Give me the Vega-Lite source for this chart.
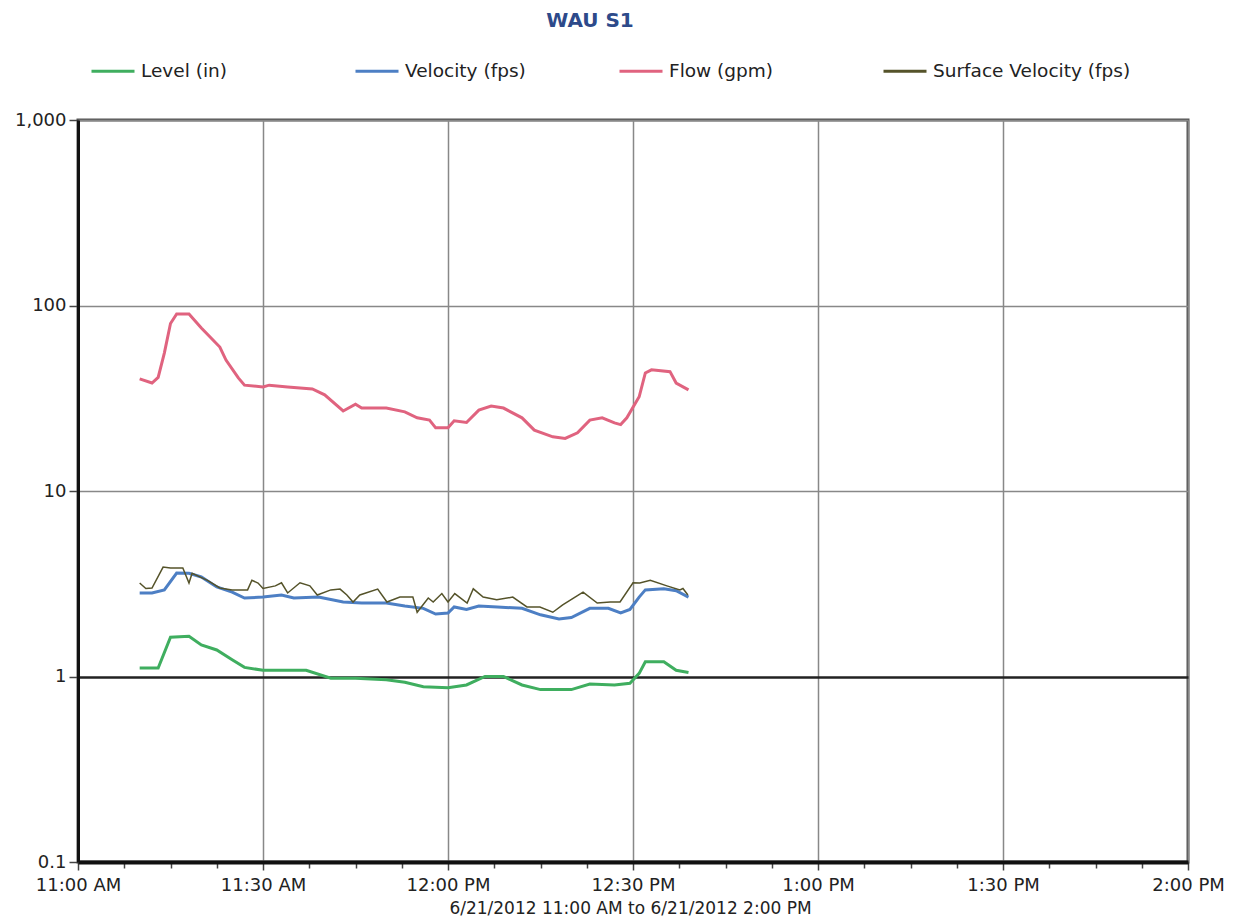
{
"$schema": "https://vega.github.io/schema/vega-lite/v6.json",
"width": 1110, "height": 742,
"autosize": "none",
"padding": {"left": 78, "top": 120, "right": 50, "bottom": 59},
"background": "white",
"config": {"font": "DejaVu Sans", "view": {"stroke": "#555", "strokeWidth": 3}},
"title": {"text": "WAU S1", "anchor": "middle", "dx": -43, "offset": 17, "fontSize": 20, "fontWeight": "bold", "color": "#2d4a8a", "font": "DejaVu Sans"},
"datasets": {
"flow": [
{"t":"2012-06-21T11:10:00","v":40.2},{"t":"2012-06-21T11:12:00","v":38.2},{"t":"2012-06-21T11:13:00","v":41},{"t":"2012-06-21T11:14:00","v":55.4},{"t":"2012-06-21T11:15:00","v":80},{"t":"2012-06-21T11:16:00","v":90},{"t":"2012-06-21T11:18:00","v":90},{"t":"2012-06-21T11:20:00","v":75.6},{"t":"2012-06-21T11:23:00","v":59.7},{"t":"2012-06-21T11:24:00","v":50.8},{"t":"2012-06-21T11:26:00","v":40.7},{"t":"2012-06-21T11:27:00","v":37.2},{"t":"2012-06-21T11:30:00","v":36.4},{"t":"2012-06-21T11:31:00","v":37.2},{"t":"2012-06-21T11:34:00","v":36.4},{"t":"2012-06-21T11:38:00","v":35.5},{"t":"2012-06-21T11:40:00","v":33.0},{"t":"2012-06-21T11:43:00","v":27.0},{"t":"2012-06-21T11:45:00","v":29.4},{"t":"2012-06-21T11:46:00","v":28.0},{"t":"2012-06-21T11:50:00","v":28.0},{"t":"2012-06-21T11:53:00","v":26.7},{"t":"2012-06-21T11:55:00","v":24.8},{"t":"2012-06-21T11:57:00","v":24.1},{"t":"2012-06-21T11:58:00","v":21.9},{"t":"2012-06-21T12:00:00","v":21.9},{"t":"2012-06-21T12:01:00","v":23.9},{"t":"2012-06-21T12:03:00","v":23.4},{"t":"2012-06-21T12:05:00","v":27.3},{"t":"2012-06-21T12:07:00","v":28.7},{"t":"2012-06-21T12:09:00","v":28.0},{"t":"2012-06-21T12:12:00","v":24.8},{"t":"2012-06-21T12:14:00","v":21.3},{"t":"2012-06-21T12:17:00","v":19.6},{"t":"2012-06-21T12:19:00","v":19.2},{"t":"2012-06-21T12:21:00","v":20.6},{"t":"2012-06-21T12:23:00","v":24.1},{"t":"2012-06-21T12:25:00","v":24.8},{"t":"2012-06-21T12:27:00","v":23.3},{"t":"2012-06-21T12:28:00","v":22.8},{"t":"2012-06-21T12:29:00","v":24.8},{"t":"2012-06-21T12:31:00","v":32.2},{"t":"2012-06-21T12:32:00","v":43.3},{"t":"2012-06-21T12:33:00","v":45},{"t":"2012-06-21T12:36:00","v":44},{"t":"2012-06-21T12:37:00","v":38.2},{"t":"2012-06-21T12:39:00","v":35.1}
],
"vel": [
{"t":"2012-06-21T11:10:00","v":2.82},{"t":"2012-06-21T11:12:00","v":2.82},{"t":"2012-06-21T11:14:00","v":2.93},{"t":"2012-06-21T11:16:00","v":3.61},{"t":"2012-06-21T11:18:00","v":3.6},{"t":"2012-06-21T11:20:00","v":3.44},{"t":"2012-06-21T11:22:30","v":3.04},{"t":"2012-06-21T11:25:00","v":2.85},{"t":"2012-06-21T11:27:00","v":2.65},{"t":"2012-06-21T11:30:00","v":2.68},{"t":"2012-06-21T11:33:00","v":2.75},{"t":"2012-06-21T11:35:00","v":2.65},{"t":"2012-06-21T11:39:00","v":2.68},{"t":"2012-06-21T11:43:00","v":2.52},{"t":"2012-06-21T11:46:00","v":2.49},{"t":"2012-06-21T11:50:00","v":2.49},{"t":"2012-06-21T11:53:00","v":2.40},{"t":"2012-06-21T11:56:00","v":2.33},{"t":"2012-06-21T11:58:00","v":2.17},{"t":"2012-06-21T12:00:00","v":2.2},{"t":"2012-06-21T12:01:00","v":2.37},{"t":"2012-06-21T12:03:00","v":2.3},{"t":"2012-06-21T12:05:00","v":2.40},{"t":"2012-06-21T12:08:00","v":2.37},{"t":"2012-06-21T12:12:00","v":2.33},{"t":"2012-06-21T12:15:00","v":2.15},{"t":"2012-06-21T12:18:00","v":2.04},{"t":"2012-06-21T12:20:00","v":2.08},{"t":"2012-06-21T12:23:00","v":2.33},{"t":"2012-06-21T12:26:00","v":2.33},{"t":"2012-06-21T12:28:00","v":2.2},{"t":"2012-06-21T12:29:30","v":2.3},{"t":"2012-06-21T12:31:00","v":2.68},{"t":"2012-06-21T12:32:00","v":2.93},{"t":"2012-06-21T12:35:00","v":2.97},{"t":"2012-06-21T12:37:00","v":2.9},{"t":"2012-06-21T12:39:00","v":2.68}
],
"level": [
{"t":"2012-06-21T11:10:00","v":1.11},{"t":"2012-06-21T11:13:00","v":1.11},{"t":"2012-06-21T11:15:00","v":1.63},{"t":"2012-06-21T11:18:00","v":1.65},{"t":"2012-06-21T11:20:00","v":1.48},{"t":"2012-06-21T11:22:30","v":1.39},{"t":"2012-06-21T11:25:00","v":1.23},{"t":"2012-06-21T11:27:00","v":1.12},{"t":"2012-06-21T11:30:00","v":1.08},{"t":"2012-06-21T11:37:00","v":1.08},{"t":"2012-06-21T11:41:00","v":0.98},{"t":"2012-06-21T11:45:00","v":0.98},{"t":"2012-06-21T11:50:00","v":0.96},{"t":"2012-06-21T11:53:00","v":0.93},{"t":"2012-06-21T11:56:00","v":0.88},{"t":"2012-06-21T12:00:00","v":0.87},{"t":"2012-06-21T12:03:00","v":0.90},{"t":"2012-06-21T12:06:00","v":1.0},{"t":"2012-06-21T12:09:00","v":1.0},{"t":"2012-06-21T12:12:00","v":0.90},{"t":"2012-06-21T12:15:00","v":0.85},{"t":"2012-06-21T12:20:00","v":0.85},{"t":"2012-06-21T12:23:00","v":0.91},{"t":"2012-06-21T12:27:00","v":0.90},{"t":"2012-06-21T12:29:30","v":0.92},{"t":"2012-06-21T12:31:00","v":1.04},{"t":"2012-06-21T12:32:00","v":1.20},{"t":"2012-06-21T12:35:00","v":1.20},{"t":"2012-06-21T12:37:00","v":1.08},{"t":"2012-06-21T12:39:00","v":1.05}
],
"surf": [
{"t":"2012-06-21T11:10:00","v":3.19},{"t":"2012-06-21T11:11:00","v":2.98},{"t":"2012-06-21T11:12:00","v":3.0},{"t":"2012-06-21T11:13:48","v":3.89},{"t":"2012-06-21T11:15:00","v":3.85},{"t":"2012-06-21T11:17:00","v":3.85},{"t":"2012-06-21T11:18:00","v":3.19},{"t":"2012-06-21T11:18:30","v":3.6},{"t":"2012-06-21T11:21:00","v":3.3},{"t":"2012-06-21T11:23:00","v":3.0},{"t":"2012-06-21T11:25:00","v":2.93},{"t":"2012-06-21T11:27:30","v":2.93},{"t":"2012-06-21T11:28:12","v":3.3},{"t":"2012-06-21T11:29:12","v":3.19},{"t":"2012-06-21T11:30:00","v":2.98},{"t":"2012-06-21T11:32:00","v":3.08},{"t":"2012-06-21T11:33:00","v":3.2},{"t":"2012-06-21T11:34:00","v":2.82},{"t":"2012-06-21T11:36:00","v":3.2},{"t":"2012-06-21T11:37:36","v":3.08},{"t":"2012-06-21T11:38:48","v":2.75},{"t":"2012-06-21T11:41:00","v":2.93},{"t":"2012-06-21T11:42:30","v":2.96},{"t":"2012-06-21T11:43:36","v":2.75},{"t":"2012-06-21T11:44:36","v":2.52},{"t":"2012-06-21T11:45:42","v":2.75},{"t":"2012-06-21T11:48:36","v":2.96},{"t":"2012-06-21T11:50:06","v":2.52},{"t":"2012-06-21T11:52:12","v":2.68},{"t":"2012-06-21T11:54:18","v":2.68},{"t":"2012-06-21T11:55:00","v":2.22},{"t":"2012-06-21T11:56:48","v":2.65},{"t":"2012-06-21T11:57:36","v":2.52},{"t":"2012-06-21T11:59:00","v":2.8},{"t":"2012-06-21T12:00:00","v":2.52},{"t":"2012-06-21T12:01:06","v":2.8},{"t":"2012-06-21T12:03:06","v":2.49},{"t":"2012-06-21T12:04:06","v":2.97},{"t":"2012-06-21T12:05:42","v":2.68},{"t":"2012-06-21T12:07:54","v":2.59},{"t":"2012-06-21T12:10:30","v":2.68},{"t":"2012-06-21T12:12:48","v":2.37},{"t":"2012-06-21T12:14:54","v":2.37},{"t":"2012-06-21T12:17:00","v":2.22},{"t":"2012-06-21T12:18:36","v":2.43},{"t":"2012-06-21T12:21:54","v":2.85},{"t":"2012-06-21T12:24:12","v":2.49},{"t":"2012-06-21T12:26:18","v":2.52},{"t":"2012-06-21T12:27:54","v":2.52},{"t":"2012-06-21T12:30:00","v":3.2},{"t":"2012-06-21T12:31:06","v":3.19},{"t":"2012-06-21T12:32:48","v":3.3},{"t":"2012-06-21T12:35:30","v":3.08},{"t":"2012-06-21T12:37:36","v":2.93},{"t":"2012-06-21T12:38:06","v":2.98},{"t":"2012-06-21T12:38:54","v":2.75}
]
},
"layer": [
{"data": {"name": "level"}, "transform": [{"calculate": "'Level (in)'", "as": "s"}], "mark": {"type": "line", "strokeWidth": 3}},
{"data": {"name": "vel"}, "transform": [{"calculate": "'Velocity (fps)'", "as": "s"}], "mark": {"type": "line", "strokeWidth": 3}},
{"data": {"name": "flow"}, "transform": [{"calculate": "'Flow (gpm)'", "as": "s"}], "mark": {"type": "line", "strokeWidth": 3}},
{"data": {"name": "surf"}, "transform": [{"calculate": "'Surface Velocity (fps)'", "as": "s"}], "mark": {"type": "line", "strokeWidth": 1.5}}
],
"encoding": {
"x": {"field": "t", "type": "temporal",
 "scale": {"domain": [{"year": 2012, "month": 6, "date": 21, "hours": 11}, {"year": 2012, "month": 6, "date": 21, "hours": 14}]},
 "axis": {
  "values": [
   {"year":2012,"month":6,"date":21,"hours":11,"minutes":0},
   {"year":2012,"month":6,"date":21,"hours":11,"minutes":7,"seconds":30},
   {"year":2012,"month":6,"date":21,"hours":11,"minutes":15},
   {"year":2012,"month":6,"date":21,"hours":11,"minutes":22,"seconds":30},
   {"year":2012,"month":6,"date":21,"hours":11,"minutes":30},
   {"year":2012,"month":6,"date":21,"hours":11,"minutes":37,"seconds":30},
   {"year":2012,"month":6,"date":21,"hours":11,"minutes":45},
   {"year":2012,"month":6,"date":21,"hours":11,"minutes":52,"seconds":30},
   {"year":2012,"month":6,"date":21,"hours":12,"minutes":0},
   {"year":2012,"month":6,"date":21,"hours":12,"minutes":7,"seconds":30},
   {"year":2012,"month":6,"date":21,"hours":12,"minutes":15},
   {"year":2012,"month":6,"date":21,"hours":12,"minutes":22,"seconds":30},
   {"year":2012,"month":6,"date":21,"hours":12,"minutes":30},
   {"year":2012,"month":6,"date":21,"hours":12,"minutes":37,"seconds":30},
   {"year":2012,"month":6,"date":21,"hours":12,"minutes":45},
   {"year":2012,"month":6,"date":21,"hours":12,"minutes":52,"seconds":30},
   {"year":2012,"month":6,"date":21,"hours":13,"minutes":0},
   {"year":2012,"month":6,"date":21,"hours":13,"minutes":7,"seconds":30},
   {"year":2012,"month":6,"date":21,"hours":13,"minutes":15},
   {"year":2012,"month":6,"date":21,"hours":13,"minutes":22,"seconds":30},
   {"year":2012,"month":6,"date":21,"hours":13,"minutes":30},
   {"year":2012,"month":6,"date":21,"hours":13,"minutes":37,"seconds":30},
   {"year":2012,"month":6,"date":21,"hours":13,"minutes":45},
   {"year":2012,"month":6,"date":21,"hours":13,"minutes":52,"seconds":30},
   {"year":2012,"month":6,"date":21,"hours":14,"minutes":0}
  ],
  "labelExpr": "(minutes(datum.value) % 30 == 0 && seconds(datum.value) == 0) ? timeFormat(datum.value, '%-I:%M %p') : ''",
  "labelOverlap": false, "labelFlush": false, "labelBound": false,
  "labelFontSize": 18, "labelColor": "#222", "labelPadding": 6,
  "tickColor": "#444", "tickWidth": 1.5,
  "tickSize": {"condition": {"test": "minutes(datum.value) % 30 == 0 && seconds(datum.value) == 0", "value": 8}, "value": 6},
  "grid": true, "gridColor": "#888", "gridWidth": 1.5,
  "gridOpacity": {"condition": {"test": "minutes(datum.value) % 30 == 0 && seconds(datum.value) == 0", "value": 1}, "value": 0},
  "domainColor": "#111", "domainWidth": 4,
  "title": "6/21/2012 11:00 AM  to 6/21/2012 2:00 PM",
  "titleFontSize": 17, "titleFontWeight": "normal", "titleColor": "#222", "titlePadding": 6, "titleX": 552
 }},
"y": {"field": "v", "type": "quantitative",
 "scale": {"type": "log", "domain": [0.1, 1000]},
 "axis": {
  "values": [0.1, 1, 10, 100, 1000], "format": ",",
  "labelFontSize": 18, "labelColor": "#222", "labelPadding": 3,
  "tickSize": 9, "tickColor": "#444", "tickWidth": 1.5,
  "grid": true,
  "gridColor": {"condition": {"test": "datum.value == 1", "value": "#222"}, "value": "#888"},
  "gridWidth": {"condition": {"test": "datum.value == 1", "value": 2.5}, "value": 1.5},
  "domainColor": "#111", "domainWidth": 3,
  "title": null
 }},
"color": {"field": "s", "type": "nominal",
 "scale": {"domain": ["Level (in)", "Velocity (fps)", "Flow (gpm)", "Surface Velocity (fps)"], "range": ["#3fae5f", "#4d7fc4", "#e0637f", "#55532a"]},
 "legend": {"orient": "none", "legendX": 12, "legendY": -72, "direction": "horizontal", "columns": 4, "gridAlign": "all", "columnPadding": 10,
  "symbolType": "stroke", "symbolSize": 1849, "symbolStrokeWidth": 3, "labelFontSize": 18.5, "labelColor": "#222", "labelLimit": 400, "labelOffset": 5, "title": null}}
}
}
